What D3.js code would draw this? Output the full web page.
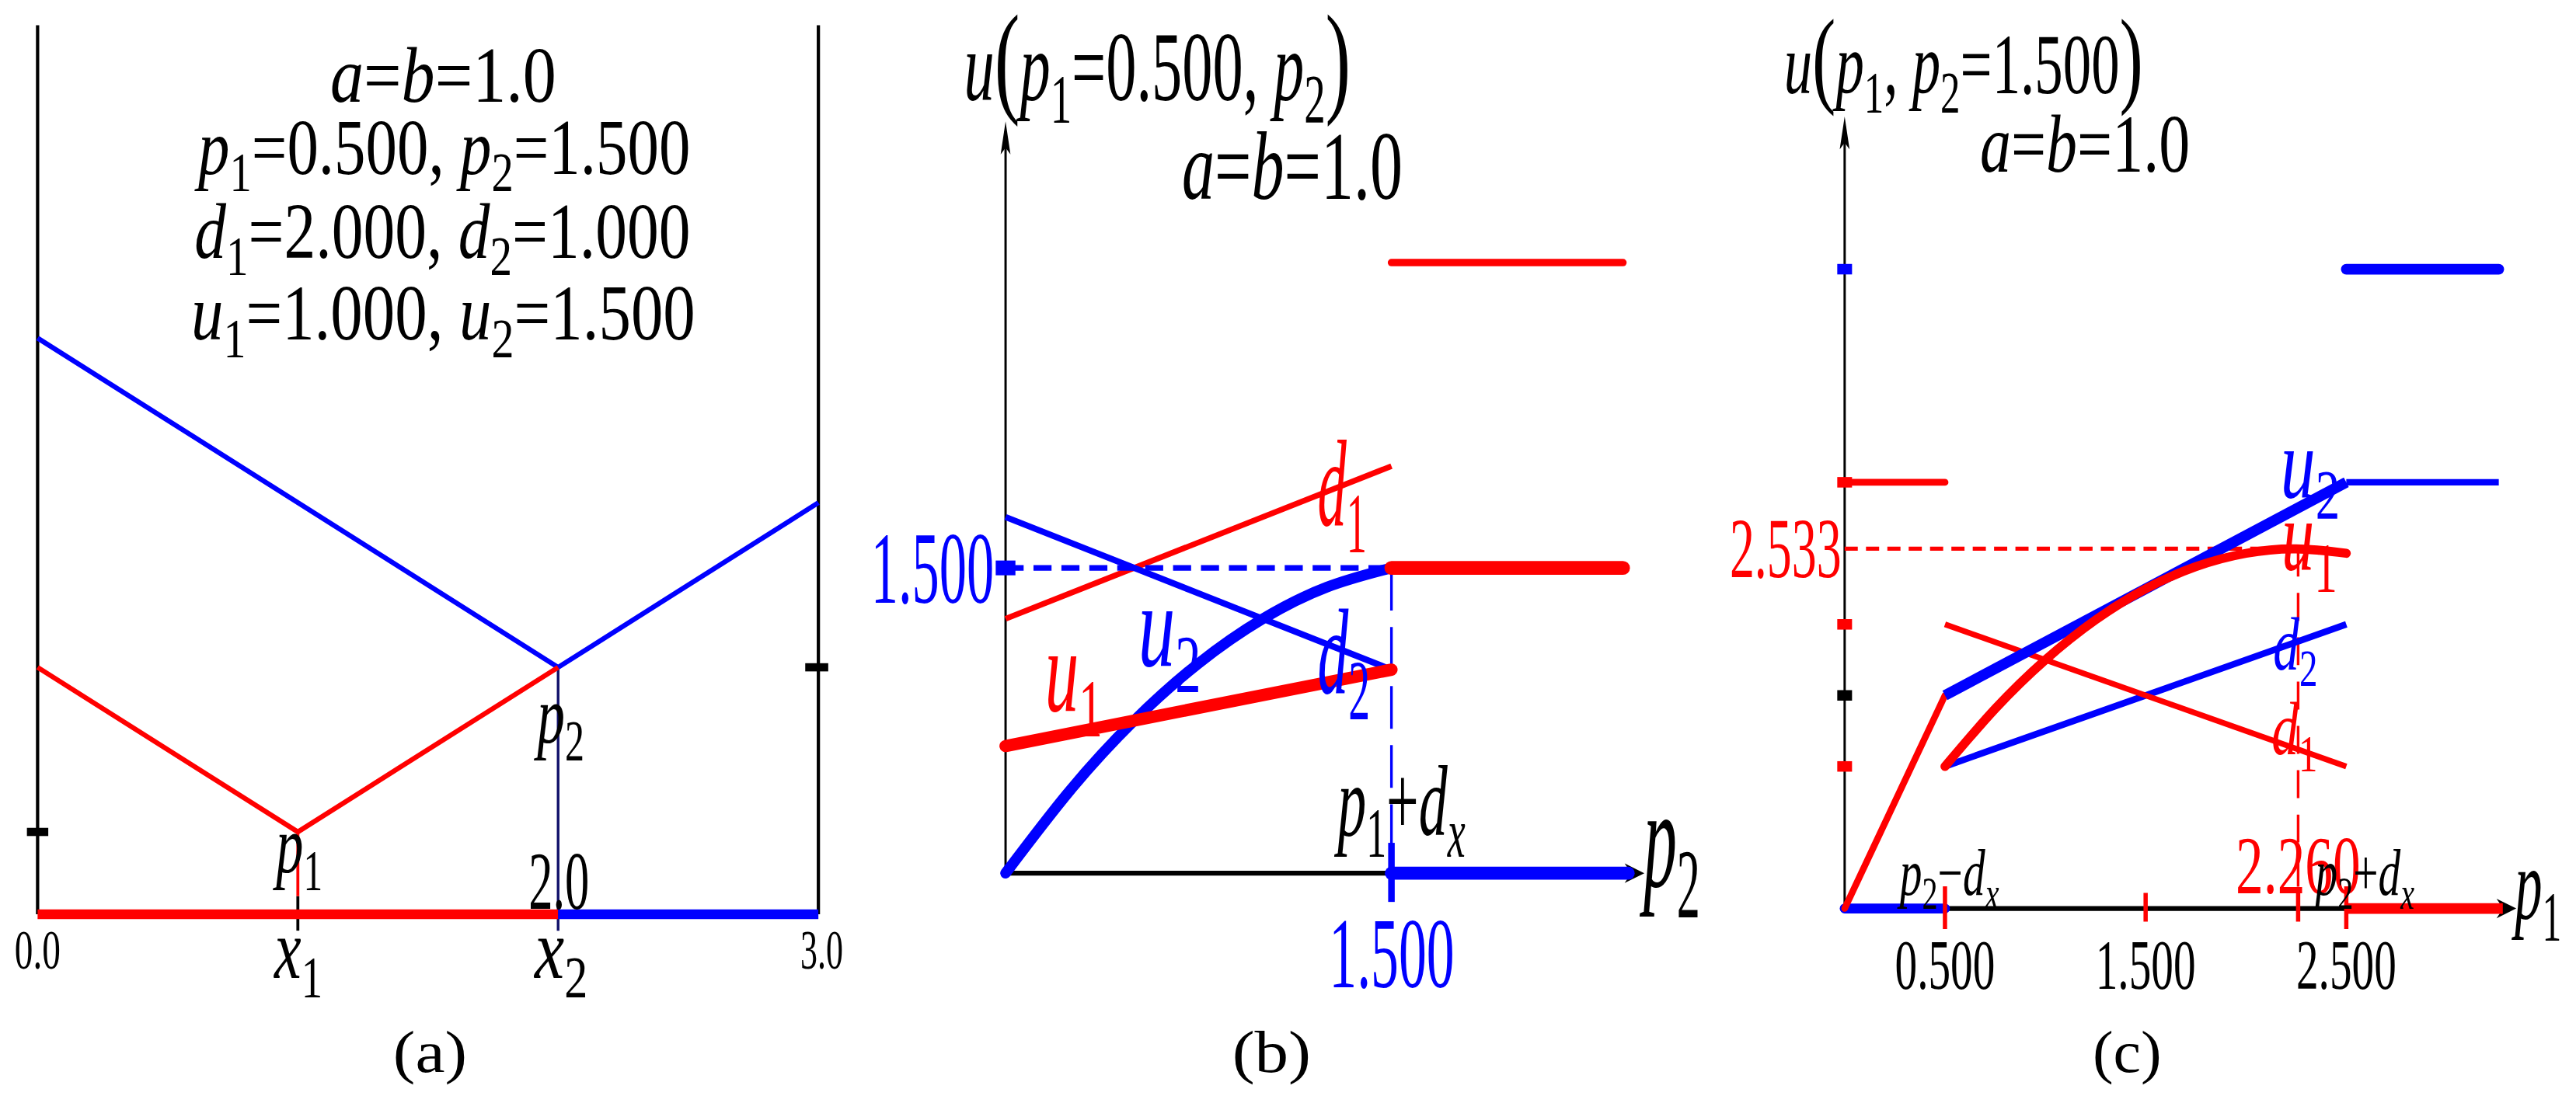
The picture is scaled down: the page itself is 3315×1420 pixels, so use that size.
<!DOCTYPE html>
<html>
<head>
<meta charset="UTF-8">
<title>Hotelling duopoly</title>
<style>
  body { margin: 0; background: #fff; }
  text { font-family: 'Liberation Serif', 'DejaVu Serif', serif; white-space: pre; }
</style>
</head>
<body>
<div id="chart"></div>
<script src="https://cdn.jsdelivr.net/npm/d3@7"></script>
<script>
// ---------- data ----------
// (a) locations on the line [0,3] and delivered prices
var lineEnds = [0, 3];
var firmLoc = [1, 2];                 // x1, x2
var prices = [0.5, 1.5];              // p1, p2
var demands = [2.0, 1.0];             // d1, d2
var profits = [1.0, 1.5];             // u1, u2
var redPriceA = [[0, 1.5], [1, 0.5], [2, 1.5]];
var bluePriceA = [[0, 3.5], [2, 1.5], [3, 2.5]];
var redMarketA = [[0, 0], [2, 0]];
var blueMarketA = [[2, 0], [3, 0]];

// (b) u(p1=0.5, p2)
var p2Grid = [0, 0.25, 0.5, 0.75, 1.0, 1.25, 1.5];
var u2B = [0, 0.406, 0.75, 1.031, 1.25, 1.406, 1.5];
var d1B = [[0, 1.25], [1.5, 2.0]];
var d2B = [[0, 1.75], [1.5, 1.0]];
var u1B = [[0, 0.625], [1.5, 1.0]];
var d1BHigh = [[1.5, 3.0], [2.4, 3.0]];
var u1BHigh = [[1.5, 1.5], [2.4, 1.5]];
var u2BHigh = [[1.5, 0], [2.42, 0]];
var ticksB = [1.5];

// (c) u(p1, p2=1.5)
var p1Grid = [0.5, 0.75, 1.0, 1.25, 1.5, 1.75, 2.0, 2.25, 2.5];
var u1C = [1.0, 1.406, 1.75, 2.031, 2.25, 2.406, 2.5, 2.531, 2.5];
var u1CLow = [[0, 0], [0.5, 1.5]];
var d1CLow = [[0, 3.0], [0.5, 3.0]];
var u2CLow = [[0, 0], [0.5, 0]];
var u2CMid = [[0.5, 1.5], [2.5, 3.0]];
var d1CMid = [[0.5, 2.0], [2.5, 1.0]];
var d2CMid = [[0.5, 1.0], [2.5, 2.0]];
var d2CHigh = [[2.5, 3.0], [3.26, 3.0]];
var u2CHigh = [[2.5, 4.5], [3.26, 4.5]];
var u1CHigh = [[2.5, 0], [3.28, 0]];
var ticksC = [0.5, 1.5, 2.5];
var bestC = [2.26, 2.533];            // p1*, u1*
var yMarksC = [1.0, 1.5, 2.0, 3.0, 4.5];
var yMarkColC = ["red", "black", "red", "red", "blue"];

var RED = "#ff0000", BLUE = "#0000ff";
var f3 = d3.format(".3f"), f1 = d3.format(".1f");

var svg = d3.select("#chart").append("svg")
  .attr("width", 3315).attr("height", 1420)
  .attr("viewBox", "0 0 1568 672");

// ---------- small TeX-like text helper ----------
function parse(str, opt) {
  opt = opt || {};
  var out = [];
  for (var i = 0; i < str.length; i++) {
    var c = str[i];
    if (c === "_") { c = str[++i]; out.push([c, /[a-z]/i.test(c) ? "si" : "s"]); continue; }
    if (opt.big && (c === "(" || c === ")")) { out.push([c, "P"]); continue; }
    out.push([c, (!opt.roman && /[a-z]/i.test(c)) ? "i" : "r"]);
  }
  return out;
}
function tex(str, x0, x1, base, fs, color, opt) {
  var g = svg.append("g");
  var t = g.append("text").attr("font-size", fs).attr("fill", color || "black");
  var shift = 0;
  parse(str, opt).forEach(function(p) {
    var ts = t.append("tspan").text(p[0]);
    var sub = p[1] === "s" || p[1] === "si";
    var want = sub ? fs * 0.22 : 0;
    if (want !== shift) { ts.attr("dy", want - shift); shift = want; }
    if (sub) ts.attr("font-size", fs * 0.7);
    if (p[1] === "i" || p[1] === "si") ts.attr("font-style", "italic");
    if (p[1] === "P") ts.attr("font-size", fs * 1.25);
  });
  var bb = t.node().getBBox();
  var sx = (x1 - x0) / bb.width;
  g.attr("transform", "translate(" + x0 + "," + base + ") scale(" + sx + ",1) translate(" + (-bb.x) + ",0)");
}
function seg(data, x, y, color, w, cap, dash) {
  var line = d3.line().x(function(d) { return x(d[0]); }).y(function(d) { return y(d[1]); });
  svg.append("path").attr("d", line(data)).attr("fill", "none")
    .attr("stroke", color).attr("stroke-width", w)
    .attr("stroke-linecap", cap || "butt").attr("stroke-linejoin", "round")
    .attr("stroke-dasharray", dash || null);
}
function arrowUp(x, tip) {
  svg.append("path").attr("d", "M" + x + "," + tip + "L" + (x - 3) + "," + (tip + 20) + "L" + x + "," + (tip + 16) + "L" + (x + 3) + "," + (tip + 20) + "Z").attr("fill", "black");
}
function arrowRight(tip, y) {
  svg.append("path").attr("d", "M" + tip + "," + y + "L" + (tip - 12) + "," + (y - 6) + "L" + (tip - 8) + "," + y + "L" + (tip - 12) + "," + (y + 6) + "Z").attr("fill", "black");
}

// ================= panel (a) =================
var xA = d3.scaleLinear().domain(lineEnds).range([22.5, 498]);
var yA = d3.scaleLinear().domain([0, 5.4]).range([557, 15.4]);

lineEnds.forEach(function(v) {
  svg.append("line").attr("x1", xA(v)).attr("x2", xA(v)).attr("y1", yA(5.4)).attr("y2", yA(0))
    .attr("stroke", "black").attr("stroke-width", 2);
});
// price marks on the two side axes
svg.append("rect").attr("x", xA(0) - 6.5).attr("y", yA(prices[0]) - 2.5).attr("width", 13).attr("height", 5).attr("fill", "black");
svg.append("rect").attr("x", xA(3) - 8).attr("y", yA(prices[1]) - 2.5).attr("width", 14).attr("height", 5).attr("fill", "black");
// firm ticks / verticals
svg.append("line").attr("x1", xA(firmLoc[0])).attr("x2", xA(firmLoc[0])).attr("y1", yA(0) - 11).attr("y2", yA(0) + 10)
  .attr("stroke", "black").attr("stroke-width", 1.8);
svg.append("line").attr("x1", xA(firmLoc[0])).attr("x2", xA(firmLoc[0])).attr("y1", yA(prices[0])).attr("y2", yA(0) - 11)
  .attr("stroke", RED).attr("stroke-width", 1.8);
svg.append("line").attr("x1", xA(firmLoc[1])).attr("x2", xA(firmLoc[1])).attr("y1", yA(prices[1])).attr("y2", yA(0) + 10)
  .attr("stroke", "#10106a").attr("stroke-width", 1.6);

seg(bluePriceA, xA, yA, BLUE, 3);
seg(redPriceA, xA, yA, RED, 3);
seg(redMarketA, xA, yA, RED, 6);
seg(blueMarketA, xA, yA, BLUE, 6);

tex("a=b=1.0", 200.7, 338.4, 62, 48);
tex("p_1=" + f3(prices[0]) + ", p_2=" + f3(prices[1]), 118, 420, 106, 48);
tex("d_1=" + f3(demands[0]) + ", d_2=" + f3(demands[1]), 118, 420, 157, 48);
tex("u_1=" + f3(profits[0]) + ", u_2=" + f3(profits[1]), 116, 423, 207, 48);

tex("p_1", xA(firmLoc[0]) - 15.5, xA(firmLoc[0]) + 15, 531.5, 50);
tex("p_2", xA(firmLoc[1]) - 15, xA(firmLoc[1]) + 16, 452.5, 50);
tex(f1(firmLoc[1]), xA(firmLoc[1]) - 18, xA(firmLoc[1]) + 19, 553.7, 50);
tex(f1(lineEnds[0]), xA(0) - 14, xA(0) + 14, 590, 34);
tex(f1(lineEnds[1]), xA(3) - 11, xA(3) + 15, 590, 34);
tex("x_1", xA(firmLoc[0]) - 15, xA(firmLoc[0]) + 15, 596, 52);
tex("x_2", xA(firmLoc[1]) - 15, xA(firmLoc[1]) + 18, 596, 52);
tex("(a)", 239, 284, 653, 36, "black", { roman: true });

// ================= panel (b) =================
var xB = d3.scaleLinear().domain([0, 1.5]).range([612, 847]);
var yB = d3.scaleLinear().domain([0, 1.5]).range([532, 346]);

svg.append("line").attr("x1", xB(0)).attr("x2", xB(0)).attr("y1", yB(0)).attr("y2", 80)
  .attr("stroke", "black").attr("stroke-width", 1.4);
arrowUp(xB(0), 74);
svg.append("line").attr("x1", xB(0)).attr("x2", 996).attr("y1", yB(0)).attr("y2", yB(0))
  .attr("stroke", "black").attr("stroke-width", 3);
arrowRight(1001, yB(0));

seg(d1B, xB, yB, RED, 3.5);
seg(d2B, xB, yB, BLUE, 3.8);
// guide lines at p2 = 1.5
seg([[0, 1.5], [1.5, 1.5]], xB, yB, BLUE, 3.5, "butt", "11,6");
seg([[1.5, 1.5], [1.5, 0]], xB, yB, BLUE, 1.6, "butt", "26,10");
svg.append("rect").attr("x", xB(0) - 6).attr("y", yB(1.5) - 4.5).attr("width", 12).attr("height", 9).attr("fill", BLUE);

var curveLineB = d3.line().curve(d3.curveNatural)
  .x(function(d, i) { return xB(p2Grid[i]); }).y(function(d) { return yB(d); });
svg.append("path").attr("d", curveLineB(u2B)).attr("fill", "none").attr("stroke", BLUE)
  .attr("stroke-width", 6.5).attr("stroke-linecap", "round");
seg(u1B, xB, yB, RED, 7.5, "round");
seg(d1BHigh, xB, yB, RED, 4.5, "round");
seg(u1BHigh, xB, yB, RED, 8.5, "round");
seg(u2BHigh, xB, yB, BLUE, 8, "round");
ticksB.forEach(function(v) {
  svg.append("line").attr("x1", xB(v)).attr("x2", xB(v)).attr("y1", 513.5).attr("y2", 549.5)
    .attr("stroke", BLUE).attr("stroke-width", 4);
});

tex("u(p_1=" + f3(prices[0]) + ", p_2)", 586.7, 822.2, 61, 60, "black", { big: true });
tex("a=b=1.0", 719.4, 853.8, 121, 59);
tex(f3(ticksB[0]), 530, 605, 367, 62, BLUE);
tex(f3(ticksB[0]), xB(ticksB[0]) - 38, xB(ticksB[0]) + 38.3, 601.5, 61, BLUE);
tex("p_2", 998, 1035, 540, 86);
tex("p_1+d_x", 812, 892, 508.5, 61);
tex("u_1", 636, 671, 433, 72, RED);
tex("u_2", 692.8, 731, 405.7, 72, BLUE);
tex("d_2", 802, 834, 422, 74, BLUE);
tex("d_1", 802, 832, 320, 75, RED);
tex("(b)", 750, 798, 653, 36, "black", { roman: true });

// ================= panel (c) =================
var xC = d3.scaleLinear().domain([0, 2.5]).range([1123, 1428.5]);
var yC = d3.scaleLinear().domain([0, 4.5]).range([553.5, 164]);

svg.append("line").attr("x1", xC(0)).attr("x2", xC(0)).attr("y1", yC(0)).attr("y2", 77)
  .attr("stroke", "black").attr("stroke-width", 1.4);
arrowUp(xC(0), 71);
svg.append("line").attr("x1", xC(0)).attr("x2", 1527).attr("y1", yC(0)).attr("y2", yC(0))
  .attr("stroke", "black").attr("stroke-width", 3);
arrowRight(1532, yC(0));

yMarksC.forEach(function(v, i) {
  svg.append("rect").attr("x", xC(0) - 4.5).attr("y", yC(v) - 3.2).attr("width", 9).attr("height", 6.4)
    .attr("fill", yMarkColC[i] === "red" ? RED : yMarkColC[i] === "blue" ? BLUE : "black");
});

// optimum guides
seg([[0, bestC[1]], [bestC[0], bestC[1]]], xC, yC, RED, 2.5, "butt", "8,5");
seg([[bestC[0], bestC[1]], [bestC[0], 0]], xC, yC, RED, 1.6, "butt", "17,10");

seg(u2CLow, xC, yC, BLUE, 6, "round");
seg(u1CLow, xC, yC, RED, 4, "round");
seg(d1CLow, xC, yC, RED, 4.2, "round");
seg(d2CMid, xC, yC, BLUE, 4);
seg(d1CMid, xC, yC, RED, 3.5);
seg(u2CMid, xC, yC, BLUE, 6.5);
var curveLineC = d3.line().curve(d3.curveNatural)
  .x(function(d, i) { return xC(p1Grid[i]); }).y(function(d) { return yC(d); });
svg.append("path").attr("d", curveLineC(u1C)).attr("fill", "none").attr("stroke", RED)
  .attr("stroke-width", 5.5).attr("stroke-linecap", "round");
seg(d2CHigh, xC, yC, BLUE, 4, "butt");
seg(u2CHigh, xC, yC, BLUE, 6.5, "round");
seg(u1CHigh, xC, yC, RED, 6.5, "butt");

ticksC.concat([bestC[0]]).forEach(function(v, i) {
  var big = (i === 0 || i === 2);
  svg.append("line").attr("x1", xC(v)).attr("x2", xC(v))
    .attr("y1", big ? 540 : 544).attr("y2", big ? 566 : 561.5)
    .attr("stroke", RED).attr("stroke-width", 2.6);
});

tex("u(p_1, p_2=" + f3(prices[1]) + ")", 1086, 1304.7, 57, 52, "black", { big: true });
tex("a=b=1.0", 1205.4, 1333.3, 104.5, 50);
tex(f3(bestC[1]), 1053, 1121, 351.6, 52, RED);
tex(f3(bestC[0]), xC(bestC[0]) - 38, xC(bestC[0]) + 38, 544, 50, RED);
tex("p_2\u2212d_x", 1155, 1217, 545, 40);
tex("p_2+d_x", 1408, 1470, 545, 40);
ticksC.forEach(function(v) {
  tex(f3(v), xC(v) - 30.5, xC(v) + 30.5, 602.4, 43);
});
tex("p_1", 1529, 1559.5, 559.5, 61);
tex("u_2", 1388.4, 1424.6, 302.8, 61, BLUE);
tex("u_1", 1389, 1423, 347, 61, RED);
tex("d_2", 1384, 1411, 407.7, 46, BLUE);
tex("d_1", 1383, 1411, 459.7, 46, RED);
tex("(c)", 1274, 1316, 653, 36, "black", { roman: true });
</script>
</body>
</html>
